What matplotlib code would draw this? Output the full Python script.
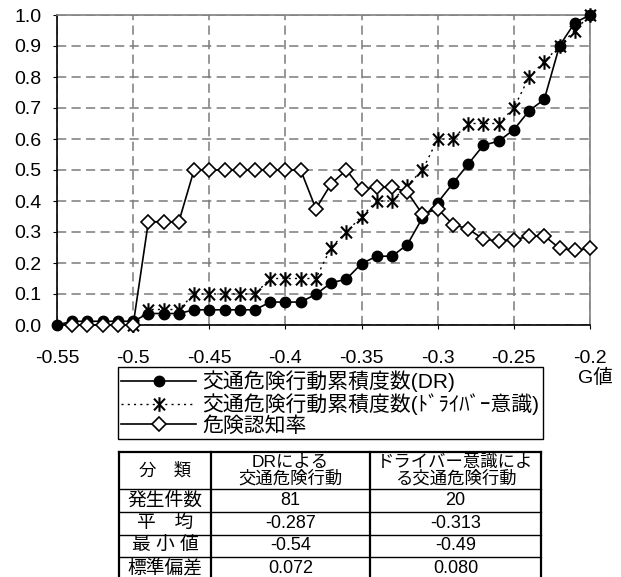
import matplotlib
matplotlib.use('Agg')
import matplotlib.pyplot as plt
from matplotlib.path import Path

plt.rcParams['font.family'] = ['Liberation Sans', 'Noto Sans CJK JP']
plt.rcParams['lines.dashed_pattern'] = [6, 3.5]

# G値 (0.01刻み)
g_values = [-0.55, -0.54, -0.53, -0.52, -0.51, -0.50, -0.49, -0.48, -0.47,
            -0.46, -0.45, -0.44, -0.43, -0.42, -0.41, -0.40, -0.39, -0.38,
            -0.37, -0.36, -0.35, -0.34, -0.33, -0.32, -0.31, -0.30, -0.29,
            -0.28, -0.27, -0.26, -0.25, -0.24, -0.23, -0.22, -0.21, -0.20]

# 交通危険行動累積度数(DR)  -0.55 から
dr_cum = [0.0, 0.012, 0.012, 0.012, 0.012, 0.012, 0.037, 0.037, 0.037,
          0.049, 0.049, 0.049, 0.049, 0.049, 0.074, 0.074, 0.074, 0.099,
          0.136, 0.148, 0.198, 0.222, 0.222, 0.259, 0.346, 0.395, 0.457,
          0.519, 0.580, 0.593, 0.630, 0.691, 0.728, 0.901, 0.975, 1.0]

# 交通危険行動累積度数(ドライバー意識)  -0.50 から
driver_cum = [0.0, 0.05, 0.05, 0.05, 0.10, 0.10, 0.10, 0.10, 0.10, 0.15,
              0.15, 0.15, 0.15, 0.25, 0.30, 0.35, 0.40, 0.40, 0.45, 0.50,
              0.60, 0.60, 0.65, 0.65, 0.65, 0.70, 0.80, 0.85, 0.90, 0.95, 1.0]

# 危険認知率  -0.54 から
risk_rate = [0.0, 0.0, 0.0, 0.0, 0.0, 0.333, 0.333, 0.333, 0.5, 0.5, 0.5,
             0.5, 0.5, 0.5, 0.5, 0.5, 0.375, 0.455, 0.5, 0.438, 0.444, 0.444,
             0.429, 0.357, 0.375, 0.324, 0.310, 0.277, 0.271, 0.275, 0.286,
             0.288, 0.247, 0.241, 0.247]

series_labels = ['交通危険行動累積度数(DR)',
                 '交通危険行動累積度数(ﾄﾞﾗｲﾊﾞｰ意識)',
                 '危険認知率']

xticks = [-0.55, -0.50, -0.45, -0.40, -0.35, -0.30, -0.25, -0.20]
xtick_labels = ['-0.55', '-0.5', '-0.45', '-0.4', '-0.35', '-0.3', '-0.25', '-0.2']
yticks = [0.0, 0.1, 0.2, 0.3, 0.4, 0.5, 0.6, 0.7, 0.8, 0.9, 1.0]

# 統計表
table_header = ['分　類', 'DRによる\n交通危険行動', 'ドライバー意識によ\nる交通危険行動']
table_rows = ['発生件数', '平　均', '最 小 値', '標準偏差']
dr_stats = ['81', '-0.287', '-0.54', '0.072']
driver_stats = ['20', '-0.313', '-0.49', '0.080']

W, H = 621, 577
fig = plt.figure(figsize=(W / 100, H / 100), dpi=100)

# 表 (ピクセル座標で描く)
tax = fig.add_axes([0, 0, 1, 1])
tax.set_xlim(0, W)
tax.set_ylim(H, 0)
tax.axis('off')

ax = fig.add_axes([57 / W, 1 - 325 / H, (590 - 57) / W, (325 - 15) / H])

# 縦線+斜め2本のアスタリスク
star = Path([(0, -1), (0, 1), (-0.75, -0.8), (0.75, 0.8),
             (-0.75, 0.8), (0.75, -0.8)],
            [Path.MOVETO, Path.LINETO] * 3)

n_dr = len(g_values) - len(dr_cum)
n_drv = len(g_values) - len(driver_cum)
n_rate = len(g_values) - len(risk_rate)

l1, = ax.plot(g_values[n_dr:], dr_cum, color='black', lw=1.2, marker='o',
              ms=7.5, mfc='black', mec='black', zorder=3, clip_on=False)
l2, = ax.plot(g_values[n_drv:], driver_cum, color='black', lw=1.0,
              ls=(0, (1.5, 3)), marker=star, ms=10.5, mew=1.5,
              zorder=4, clip_on=False)
l3, = ax.plot(g_values[n_rate:], risk_rate, color='black', lw=1.2,
              marker='D', ms=7, mfc='white', mec='black', mew=1.2,
              zorder=5, clip_on=False)

ax.set_xlim(-0.55, -0.20)
ax.set_ylim(0, 1.0)
ax.set_xticks(xticks)
ax.set_xticklabels(xtick_labels)
ax.set_yticks(yticks)
ax.set_yticklabels(['%.1f' % v for v in yticks])
ax.tick_params(axis='both', labelsize=14, length=3, direction='out')
ax.tick_params(axis='x', pad=15)
ax.tick_params(axis='y', pad=8)

# 破線グリッド
ax.grid(True, color='#7a7a7a', linestyle='--', linewidth=1.1)
ax.set_axisbelow(True)

for side in ['left', 'bottom']:
    ax.spines[side].set_color('black')
    ax.spines[side].set_linewidth(1.2)
for side in ['top', 'right']:
    ax.spines[side].set_color('#808080')
    ax.spines[side].set_linewidth(1.2)

fig.text(595 / W, 1 - 378 / H, 'G値', ha='center', va='center', fontsize=14)

leg = fig.legend([l1, l2, l3], series_labels, loc='upper left',
                 bbox_to_anchor=(118 / W, 1 - 367 / H),
                 bbox_transform=fig.transFigure, borderaxespad=0,
                 fancybox=False, edgecolor='black', framealpha=1,
                 fontsize=15, handlelength=3.6, handletextpad=0.3,
                 labelspacing=0.06, borderpad=0.15, numpoints=1)
leg.get_frame().set_linewidth(1.0)

cols = [119, 211, 370, 541]
rows = [452, 489, 512, 535, 557, 580]

for y in rows[1:-1]:
    tax.plot([cols[0], cols[-1]], [y, y], color='black', lw=1.0)
tax.plot([cols[0], cols[-1]], [rows[0], rows[0]], color='black', lw=1.6)
for x in cols:
    tax.plot([x, x], [rows[0], rows[-1]], color='black', lw=1.6)

hy = (rows[0] + rows[1]) / 2
for j, txt in enumerate(table_header):
    cx = (cols[j] + cols[j + 1]) / 2
    tax.text(cx, hy, txt, ha='center', va='center', fontsize=12.5,
             linespacing=1.0)

for i, name in enumerate(table_rows):
    cy = (rows[i + 1] + rows[i + 2]) / 2
    tax.text((cols[0] + cols[1]) / 2, cy, name, ha='center', va='center',
             fontsize=13.5)
    tax.text((cols[1] + cols[2]) / 2, cy, dr_stats[i], ha='center',
             va='center', fontsize=13)
    tax.text((cols[2] + cols[3]) / 2, cy, driver_stats[i], ha='center',
             va='center', fontsize=13)

fig.savefig('out.png', dpi=100)
